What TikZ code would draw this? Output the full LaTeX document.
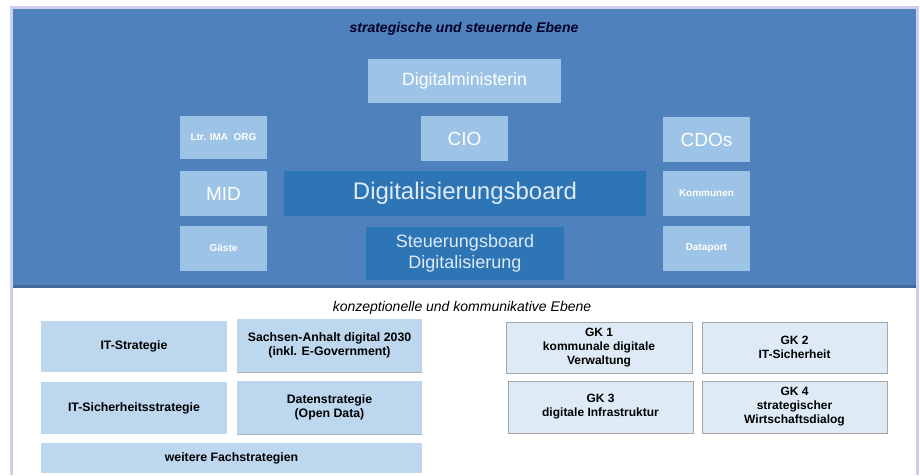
\documentclass[tikz,border=0pt]{standalone}
\usepackage{fontspec}
\setmainfont{Liberation Sans}
\definecolor{frameclr}{HTML}{CDCFEC}
\definecolor{bgblue}{HTML}{4F81BD}
\definecolor{edgeblue}{HTML}{3E6A9E}
\definecolor{lightbox}{HTML}{9DC3E6}
\definecolor{darkbox}{HTML}{2E75B6}
\definecolor{stratbox}{HTML}{BDD7EE}
\definecolor{gkfill}{HTML}{DEEBF7}

\begin{document}
\begin{tikzpicture}[x=1pt, y=-1pt,
 lbox/.style args = {#1/#2}{%
      rectangle, fill=lightbox, text=white, inner sep=0pt,
      minimum width=#1, minimum height=#2, align=center},
 dbox/.style args = {#1/#2}{%
      rectangle, fill=darkbox, text=gkfill, inner sep=0pt,
      minimum width=#1, minimum height=#2, align=center},
 sbox/.style args = {#1/#2}{%
      rectangle, fill=stratbox, inner sep=0pt,
      minimum width=#1, minimum height=#2, align=center,
      font=\bfseries\fontsize{12.3}{14}\selectfont},
 gkbox/.style args = {#1/#2}{%
      rectangle, fill=gkfill, draw=gray!70, inner sep=0pt,
      minimum width=#1, minimum height=#2, align=center,
      font=\bfseries\fontsize{12}{14}\selectfont},
 big/.style   = {font=\fontsize{19}{22}\selectfont},
 small/.style = {font=\bfseries\fontsize{10}{12}\selectfont}
                    ]
\useasboundingbox (0,0) rectangle (920,475);
% frame and the two areas
\fill[frameclr] (10,6) rectangle (919,475);
\fill[white]    (13,9) rectangle (916,475);
\fill[bgblue]   (12.5,9) rectangle (916,287);
\fill[edgeblue] (12.5,285) rectangle (916,287.5);
%
\node(top) at (464,29) {\bfseries\itshape\fontsize{14}{16}\selectfont
      \textcolor{black!85!blue}{strategische und steuernde Ebene}};
\node(dmin)   [lbox=193/44, font=\fontsize{17.7}{20}\selectfont]
                                 at (464.5, 81)  {Digitalministerin};
\node(ltr)    [lbox=87/43, small] at (223.5,137.5) {Ltr. IMA\ \ ORG};
\node(cio)    [lbox=87/45, big]  at (464.5,138.5) {CIO};
\node(cdo)    [lbox=87/45, big]  at (706.5,139.5) {CDOs};
\node(mid)    [lbox=87/45, big]  at (223.5,193.5) {MID};
\node(board)  [dbox=362/45, font=\fontsize{24}{28}\selectfont]
                                 at (465,193.5)   {Digitalisierungsboard};
\node(komm)   [lbox=87/45, small] at (706.5,193.5) {Kommunen};
\node(gaeste) [lbox=87/45, small] at (223.5,248.5) {Gäste};
\node(steuer) [dbox=198/53, font=\fontsize{18}{21}\selectfont]
                                 at (465,253.5)   {Steuerungsboard\\Digitalisierung};
\node(dport)  [lbox=87/45, small] at (706.5,248.5) {Dataport};
%
\node(bottom) at (462,308) {\itshape\fontsize{14}{16}\selectfont
      konzeptionelle und kommunikative Ebene};
\node(itstrat) [sbox=186/51] at (134,346.5)   {IT-Strategie};
\node(sachsen) [sbox=185/53] at (329.5,345.5) {Sachsen-Anhalt digital 2030\\(inkl. E-Government)};
\node(itsich)  [sbox=186/52] at (134,408)     {IT-Sicherheitsstrategie};
\node(daten)   [sbox=185/53] at (329.5,407.5) {Datenstrategie\\(Open Data)};
\node(weitere) [sbox=381/30] at (231.5,458)   {weitere Fachstrategien};
\draw[gray!60] (sachsen.south west) -- (sachsen.south east)
               (daten.south west) -- (daten.south east);
%
\node(gk1) [gkbox=186/51] at (599,347.5)   {GK 1\\kommunale digitale\\Verwaltung};
\node(gk2) [gkbox=185/51] at (794.5,347.5) {GK 2\\IT-Sicherheit};
\node(gk3) [gkbox=185/52] at (600.5,407)   {GK 3\\digitale Infrastruktur};
\node(gk4) [gkbox=185/52] at (794.5,407)   {GK 4\\strategischer\\Wirtschaftsdialog};
\end{tikzpicture}
\end{document}
